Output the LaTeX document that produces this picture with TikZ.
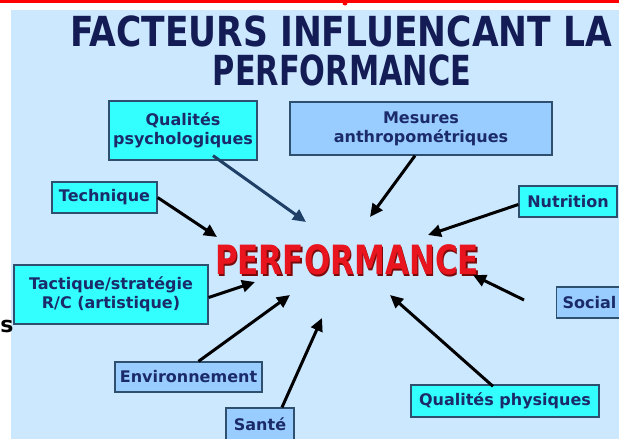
\documentclass[tikz,border=0pt]{standalone}
\usepackage{fontspec}
\setmainfont{DejaVu Sans}
\usetikzlibrary{arrows.meta,calc}
\definecolor{bgblue}{HTML}{CCE8FF}
\definecolor{cyanbox}{HTML}{33FFFF}
\definecolor{lbbox}{HTML}{99CCFF}
\definecolor{navy}{HTML}{1B2A6B}
\definecolor{titlenavy}{HTML}{141C55}
\definecolor{boxline}{HTML}{2F4F6F}
\definecolor{perfred}{HTML}{E8141E}
\definecolor{perfshadow}{HTML}{7A0A0A}
\definecolor{darkarrow}{HTML}{1F3F66}
\tikzset{
  fbox/.style={draw=boxline, line width=1.3pt, inner sep=0pt, align=center,
    text=navy, font=\fontsize{16}{19}\selectfont\bfseries},
  cbox/.style={fbox, fill=cyanbox},
  lbox/.style={fbox, fill=lbbox},
  titletext/.style={text=titlenavy, font=\fontsize{34.5}{38}\selectfont\bfseries, inner sep=0pt},
  arr/.style={line width=3pt, -{Triangle[length=13pt,width=12pt]}, black},
}
\begin{document}
\begin{tikzpicture}[x=1pt,y=-1pt]
\useasboundingbox (0,0) rectangle (619,439);
\fill[white] (0,0) rectangle (619,439);
\fill[bgblue] (11,10) rectangle (619,439);
\fill[red] (0,0) rectangle (619,2.5);
\fill[red] (345,3) circle (2.5);
% title
\node[titletext] (t1) at (341,31) {\scalebox{1}[1.2]{FACTEURS INFLUENCANT LA}};
\node[titletext] (t2) at (342,70) {\scalebox{0.88}[1.2]{PERFORMANCE}};
% center
\node[font=\fontsize{31}{34}\selectfont\bfseries, inner sep=0pt] (perf) at (347,261)
  {\scalebox{1}[1.3]{\rlap{\hspace{1.5pt}\raisebox{-1.5pt}{\textcolor{perfshadow}{PERFORMANCE}}}\textcolor{perfred}{PERFORMANCE}}};
% boxes
\node[cbox, minimum width=148pt, minimum height=59pt] (qpsy) at (183,130.5) {Qualités\\psychologiques};
\node[lbox, minimum width=262pt, minimum height=53pt] (mes) at (421,128.5) {Mesures\\anthropométriques};
\node[cbox, minimum width=105pt, minimum height=31pt] (tech) at (104.5,197.5) {Technique};
\node[cbox, minimum width=98pt, minimum height=31pt] (nutr) at (568,201.5) {Nutrition};
\node[cbox, minimum width=194pt, minimum height=59pt] (tact) at (111,294.5) {Tactique/stratégie\\R/C (artistique)};
\node[lbox, minimum width=147pt, minimum height=30pt] (env) at (188.5,377) {Environnement};
\node[lbox, minimum width=68pt, minimum height=32pt] (sante) at (260,424) {Santé};
\node[lbox, minimum width=70pt, minimum height=31pt, anchor=west, text width=70pt, align=left] (social) at (556,302.5) {\hspace{6pt}Social};
\node[cbox, minimum width=188pt, minimum height=32pt] (qphys) at (505,401) {Qualités physiques};
% stray letter
\node[font=\fontsize{22}{24}\selectfont\bfseries, inner sep=0pt, text=black] (s) at (7,326) {s};
% arrow heads
\coordinate (h1) at (306,222);
\coordinate (h2) at (370,217);
\coordinate (h3) at (217,237);
\coordinate (h4) at (428,235);
\coordinate (h5) at (255,282);
\coordinate (h6) at (290,295);
\coordinate (h7) at (322,318);
\coordinate (h8) at (390,295);
\coordinate (h9) at (473,275);
\coordinate (s9) at (524,300);
% arrows
\draw[arr, darkarrow] ($(qpsy.south)+(30,-5)$) -- (h1);
\draw[arr] ($(mes.south)+(-6,0)$) -- (h2);
\draw[arr] (tech.east) -- (h3);
\draw[arr] ($(nutr.west)+(0,3)$) -- (h4);
\draw[arr] ($(tact.east)+(0,3)$) -- (h5);
\draw[arr] ($(env.north)+(10,0)$) -- (h6);
\draw[arr] ($(sante.north)+(22,0)$) -- (h7);
\draw[arr] ($(qphys.north)+(-12,2)$) -- (h8);
\draw[arr] (s9) -- (h9);
\end{tikzpicture}
\end{document}
